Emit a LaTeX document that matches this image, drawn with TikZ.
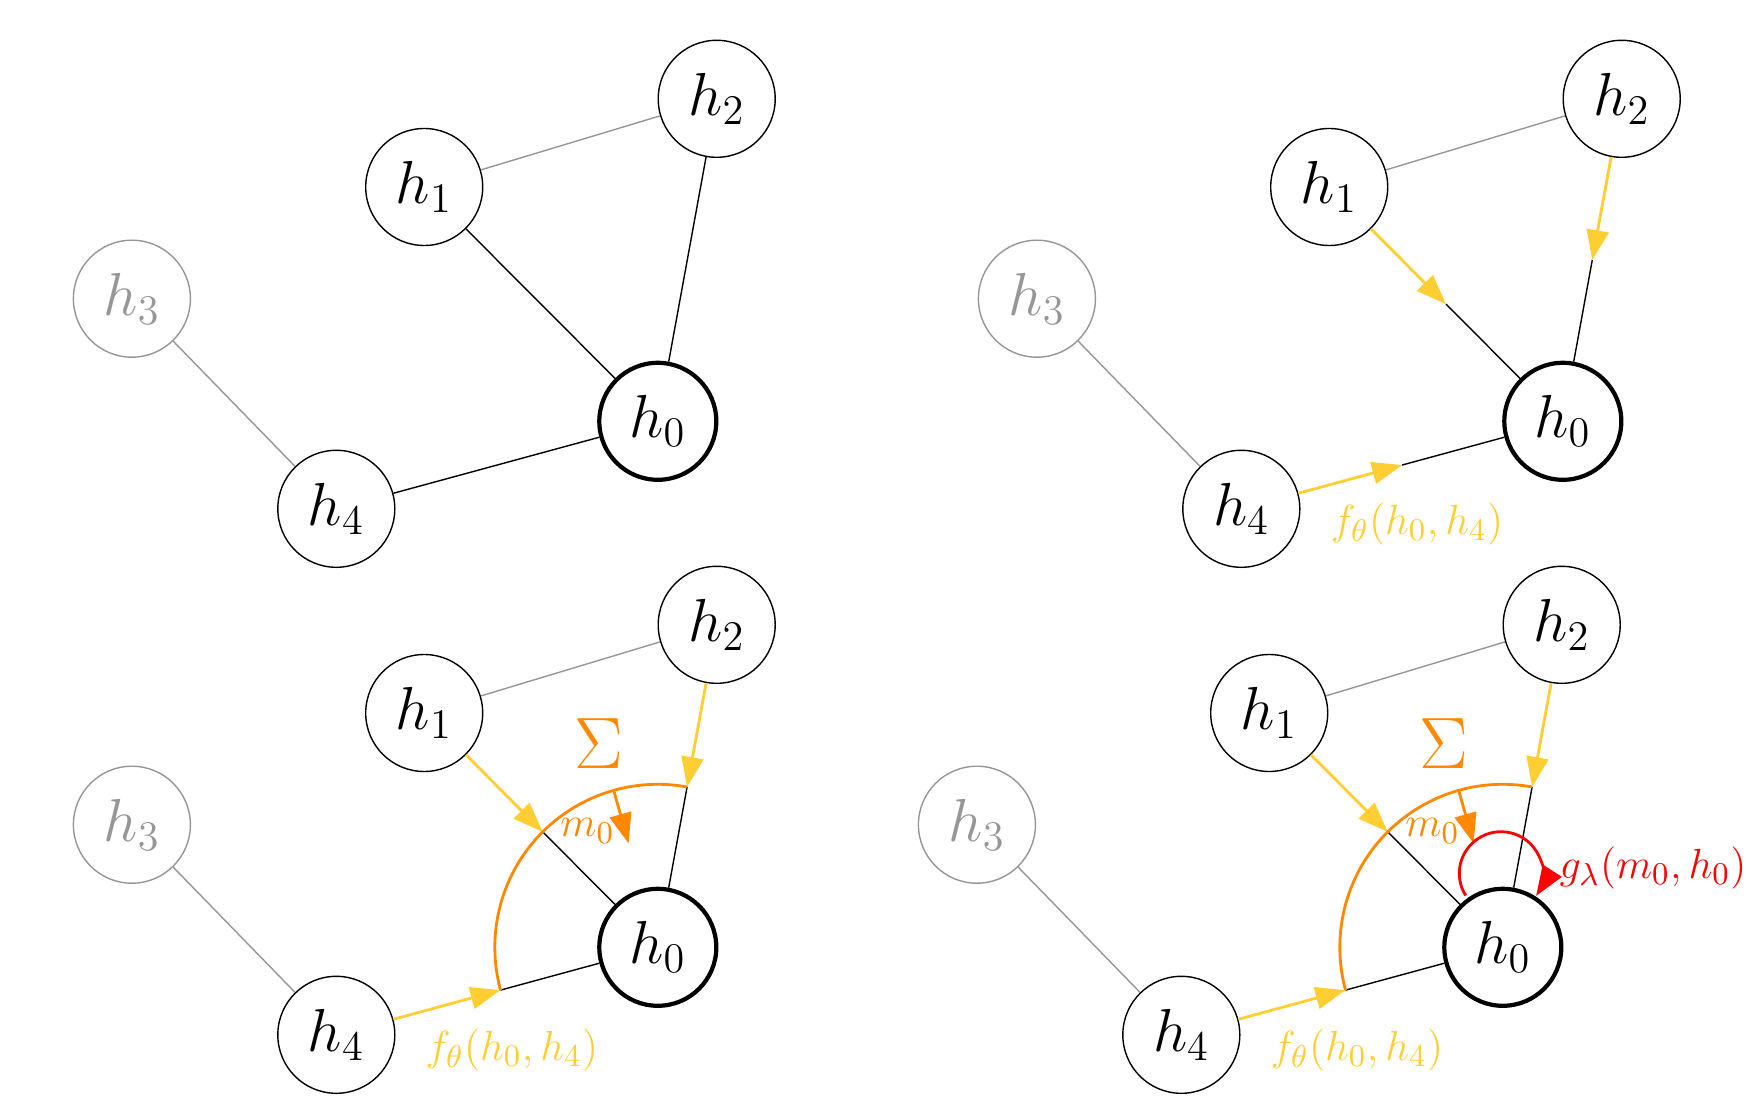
\documentclass[tikz,border=0pt]{standalone}
\usetikzlibrary{arrows.meta,calc}

\definecolor{msgyellow}{RGB}{255,206,51}
\definecolor{aggorange}{RGB}{255,136,0}
\definecolor{updred}{RGB}{255,0,0}
\definecolor{fadegray}{RGB}{150,150,150}

\newcommand\labelsize{\fontsize{12.5}{15}\selectfont}

\tikzset{
  hnode/.style={circle,draw,thin,minimum size=11.7mm,inner sep=0pt,font=\LARGE},
  hcentre/.style={hnode,very thick},
  hfaded/.style={hnode,draw=fadegray,text=fadegray},
  fadededge/.style={draw=fadegray,thin},
  plainedge/.style={draw=black,thin},
  headtip/.style={-{Triangle[length=3mm,width=2.2mm]}},
  msgarrow/.style={draw=msgyellow,thick,headtip},
  aggarc/.style={draw=aggorange,thick},
  aggarrow/.style={draw=aggorange,thick,headtip},
  updloop/.style={draw=updred,thick,headtip},
  msglabel/.style={text=msgyellow,font=\labelsize},
}

% the five nodes of one graph, named <prefix>h0 ... <prefix>h4
\newcommand\hgraph[1]{%
  \node[hnode]   (#1h2) at (716.7,-98.8)  {$h_2$};
  \node[hnode]   (#1h1) at (424.2,-187.0) {$h_1$};
  \node[hfaded]  (#1h3) at (131.9,-298.7) {$h_3$};
  \node[hcentre] (#1h0) at (657.8,-421.3) {$h_0$};
  \node[hnode]   (#1h4) at (336.3,-508.8) {$h_4$};
  \draw[fadededge] (#1h1) -- (#1h2);
  \draw[fadededge] (#1h3) -- (#1h4);
}

% messages stopped on the aggregation arc, summed into m_0
\newcommand\aggregation[1]{%
  \coordinate (#1p1) at ($(#1h0)!16.3mm!(#1h1)$);
  \coordinate (#1p2) at ($(#1h0)!16.3mm!(#1h2)$);
  \coordinate (#1p4) at ($(#1h0)!16.3mm!(#1h4)$);
  \coordinate (#1ma) at ($(#1h0)+(105.7:16.3mm)$);
  \coordinate (#1mb) at ($(#1h0)+(105.7:10.8mm)$);
  \draw[msgarrow] (#1h1) -- (#1p1);
  \draw[msgarrow] (#1h2) -- (#1p2);
  \draw[msgarrow] (#1h4) -- (#1p4);
  \draw[plainedge] (#1p1) -- (#1h0);
  \draw[plainedge] (#1p2) -- (#1h0);
  \draw[plainedge] (#1p4) -- (#1h0);
  \draw[aggarc] (#1p2) arc[start angle=79.65, end angle=195.23, radius=16.3mm];
  \draw[aggarrow] (#1ma) -- (#1mb);
  \node[text=aggorange,font=\huge] (#1sum) at (599.3,-217.7) {$\Sigma$};
  \node[text=aggorange,font=\labelsize] (#1m) at (587.5,-305) {$m_0$};
  \node[msglabel] (#1f) at (512,-524) {$f_\theta(h_0,h_4)$};
}

\begin{document}
\begin{tikzpicture}[x=0.1mm,y=0.1mm]
\useasboundingbox (0,0) rectangle (1763,-1105);

% graph
\begin{scope}
  \hgraph{a}
  \draw[plainedge] (ah1) -- (ah0);
  \draw[plainedge] (ah2) -- (ah0);
  \draw[plainedge] (ah4) -- (ah0);
\end{scope}

% messages along the edges
\begin{scope}[shift={(905,0)}]
  \hgraph{b}
  \coordinate (bm1) at ($(bh1)!0.5!(bh0)$);
  \coordinate (bm2) at ($(bh2)!0.5!(bh0)$);
  \coordinate (bm4) at ($(bh4)!0.5!(bh0)$);
  \draw[msgarrow] (bh1) -- (bm1);
  \draw[msgarrow] (bh2) -- (bm2);
  \draw[msgarrow] (bh4) -- (bm4);
  \draw[plainedge] (bm1) -- (bh0);
  \draw[plainedge] (bm2) -- (bh0);
  \draw[plainedge] (bm4) -- (bh0);
  \node[msglabel] (bf) at (512,-524) {$f_\theta(h_0,h_4)$};
\end{scope}

% aggregation
\begin{scope}[shift={(0,-526)}]
  \hgraph{c}
  \aggregation{c}
\end{scope}

% aggregation and update
\begin{scope}[shift={(845,-526)}]
  \hgraph{d}
  \aggregation{d}
  \coordinate (dlc) at (656,-347.4);
  \draw[updloop] ($(dlc)+(212:4.17mm)$) arc[start angle=212, end angle=-32.7, radius=4.17mm];
  \node[text=updred,font=\labelsize] (dg) at (808,-342) {$g_\lambda(m_0,h_0)$};
\end{scope}
\end{tikzpicture}
\end{document}
